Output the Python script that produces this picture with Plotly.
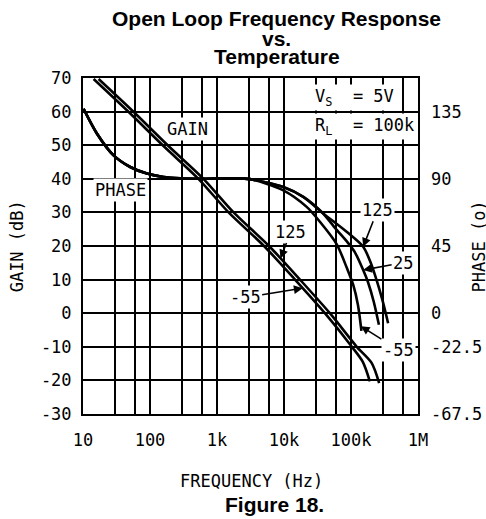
import numpy as np
import plotly.graph_objects as go

# ---------------- data ----------------
# Open loop gain (dB) vs frequency (Hz)
gain_freq_m55 = [14.4, 48.6, 162, 528, 1490, 5030, 14600, 40800, 103000, 150000, 191000]
gain_m55 = [69.7, 59.8, 49.6, 40.0, 30.0, 20.0, 10.0, 0.0, -10.0, -14.5, -20.3]
gain_freq_125 = [17.1, 57.7, 192, 627, 1770, 5970, 17300, 48400, 122000, 203000, 263000]
gain_125 = [69.7, 59.8, 49.6, 40.0, 30.0, 20.0, 10.0, 0.0, -10.0, -14.8, -20.8]

# Phase (deg) vs frequency (Hz): shared low-frequency part + per-temperature tails
phase_freq_common = [10.2, 16.2, 28.6, 50.7, 90, 159, 282, 560, 1740, 3100]
phase_common = [136.9, 120.2, 105.7, 97.9, 93.5, 91.2, 90.3, 90.0, 90.3, 89.8]
phase_freq_m55 = [9770, 21800, 34400, 61000, 86900, 108000, 127000, 143000]
phase_m55 = [82.3, 71.2, 61.2, 46.3, 30.2, 18.9, 5.5, -11.8]
phase_freq_25 = [9770, 19400, 36800, 61700, 88300, 114000, 152000, 179000, 219000, 261000]
phase_25 = [84.5, 77.9, 67.6, 55.6, 47.6, 40.9, 28.9, 20.9, 7.5, -7.8]
phase_freq_125 = [9770, 19400, 38500, 86000, 152000, 195000, 241000, 294000, 358000]
phase_125 = [84.5, 77.9, 66.8, 54.5, 44.5, 34.3, 22.2, 8.9, -6.7]

# axis ticks
x_tickvals = [10, 100, 1e3, 1e4, 1e5, 1e6]
x_ticktext = ["10", "100", "1k", "10k", "100k", "1M"]
x_minor_grid = [30, 60, 300, 600, 3e3, 6e3, 3e4, 6e4, 3e5, 6e5]
y_tickvals = [-30, -20, -10, 0, 10, 20, 30, 40, 50, 60, 70]
y_ticktext = ["-30", "-20", "-10", "0", "10", "20", "30", "40", "50", "60", "70"]
y2_tickvals = [135, 90, 45, 0, -22.5, -67.5]
y2_ticktext = ["135", "90", "45", "0", "-22.5", "-67.5"]

# curve labels: (text, curve, tip frequency, text frequency, text value)
gain_labels = [("125", "g125", 8850, 12700, 24.3), ("-55", "gm55", 19000, 2630, 4.7)]
phase_labels = [("125", "p125", 152000, 250000, 69.3),
                ("25", "p25", 152000, 600000, 33.9),
                ("-55", "pm55", 140000, 510000, -24.5)]

# ---------------- figure ----------------
MONO = "DejaVu Sans Mono"
BOLD = "Liberation Sans"
LW = 2.6

pf_m55 = phase_freq_common + phase_freq_m55
pv_m55 = phase_common + phase_m55
pf_25 = phase_freq_common + phase_freq_25
pv_25 = phase_common + phase_25
pf_125 = phase_freq_common + phase_freq_125
pv_125 = phase_common + phase_125

curves = {
    "gm55": (gain_freq_m55, gain_m55, "y"),
    "g125": (gain_freq_125, gain_125, "y"),
    "pm55": (pf_m55, pv_m55, "y2"),
    "p25": (pf_25, pv_25, "y2"),
    "p125": (pf_125, pv_125, "y2"),
}

fig = go.Figure()
for name, (fx, fy, ax) in curves.items():
    fig.add_trace(go.Scatter(
        x=fx, y=fy, mode="lines", yaxis=ax, name=name,
        line=dict(color="black", width=LW, shape="spline", smoothing=0.8),
        showlegend=False, hoverinfo="skip"))


def interp_on(curve, f):
    fx, fy, _ = curves[curve]
    return float(np.interp(np.log10(f), np.log10(fx), fy))


annotations = []
for text, cname, ftip, ftxt, vtxt in gain_labels + phase_labels:
    yref = curves[cname][2]
    annotations.append(dict(
        text=text, x=np.log10(ftip), y=interp_on(cname, ftip), xref="x", yref=yref,
        ax=np.log10(ftxt), ay=vtxt, axref="x", ayref=yref,
        showarrow=True, arrowhead=2, arrowsize=1.1, arrowwidth=1.6, arrowcolor="black",
        standoff=0, bgcolor="white", borderpad=1,
        font=dict(family=MONO, size=17, color="black")))


def pa(text, x, y, size=17, family=MONO, angle=0, bg=None, xanchor="center", bold=False):
    d = dict(text=("<b>%s</b>" % text) if bold else text, x=x, y=y, xref="paper", yref="paper",
             showarrow=False, textangle=angle, xanchor=xanchor, yanchor="middle",
             font=dict(family=family, size=size, color="black"))
    if bg:
        d["bgcolor"] = bg
        d["borderpad"] = 1
    return d


annotations += [
    pa("Open Loop Frequency Response", 0.579, 1.176, 21, BOLD, bold=True),
    pa("vs.", 0.579, 1.1177, 21, BOLD, bold=True),
    pa("Temperature", 0.579, 1.0642, 21, BOLD, bold=True),
    pa("GAIN", 0.312, 0.849, bg="white"),
    pa("PHASE", 0.111, 0.668, bg="white"),
    pa("V<sub>S</sub>  = 5V", 0.686, 0.942, xanchor="left", bg="white"),
    pa("R<sub>L</sub>  = 100k", 0.686, 0.857, xanchor="left", bg="white"),
    pa("GAIN (dB)", -0.1984, 0.4976, angle=-90),
    pa("PHASE (o)", 1.1812, 0.4976, angle=-90),
    pa("FREQUENCY (Hz)", 0.5036, -0.2004),
    pa("Figure 18.", 0.5715, -0.2697, 21, BOLD, bold=True),
]

axis_common = dict(showline=True, linecolor="black", linewidth=2, ticks="", automargin=False,
                   zeroline=False, tickfont=dict(family=MONO, size=17, color="black"))

fig.update_layout(
    width=486, height=519,
    margin=dict(l=83, r=68, t=78, b=105),
    paper_bgcolor="white", plot_bgcolor="white",
    showlegend=False,
    xaxis=dict(type="log", range=[1, 6], tickvals=x_tickvals, ticktext=x_ticktext,
               showgrid=True, gridcolor="black", gridwidth=2, mirror=True,
               ticklabelstandoff=10,
               minor=dict(tickvals=x_minor_grid, showgrid=True, gridcolor="black",
                          gridwidth=2, ticks=""),
               **axis_common),
    yaxis=dict(range=[-30, 70], tickvals=y_tickvals, ticktext=y_ticktext,
               showgrid=True, gridcolor="black", gridwidth=2, mirror=True,
               ticklabelstandoff=6, **axis_common),
    yaxis2=dict(range=[-67.5, 157.5], tickvals=y2_tickvals, ticktext=y2_ticktext,
                overlaying="y", side="right", showgrid=False,
                ticklabelstandoff=12,
                **{k: v for k, v in axis_common.items() if k != "showline"}, showline=False),
    annotations=annotations,
)

fig.write_html("out.html", config={"displayModeBar": False},
               post_script="document.body.style.margin='0px';document.body.style.overflow='hidden';")
